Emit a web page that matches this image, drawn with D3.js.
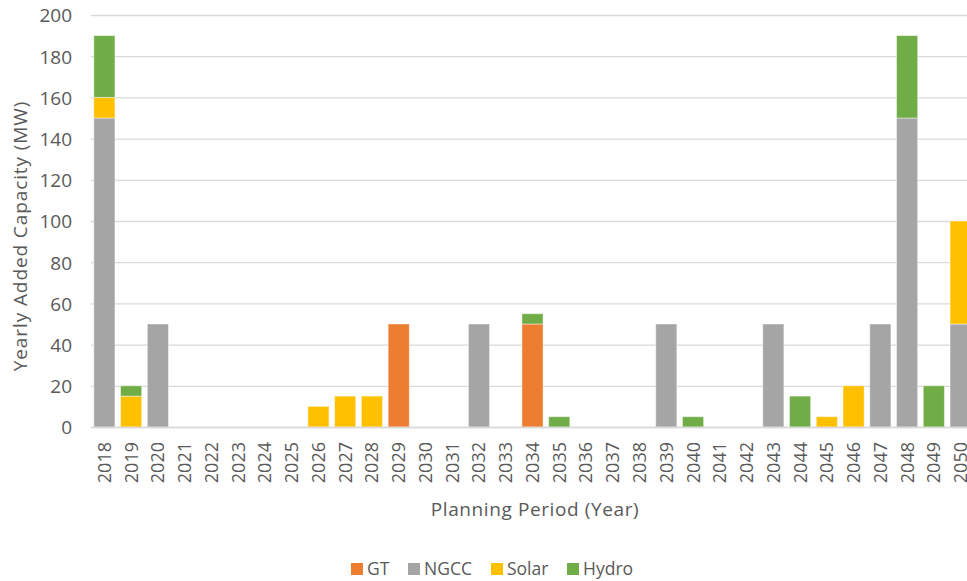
<!DOCTYPE html>
<html>
<head>
<meta charset="utf-8">
<script src="https://cdn.jsdelivr.net/npm/d3@7"></script>
<style>
  html, body { margin: 0; padding: 0; background: #fff; }
  svg text { font-family: "Open Sans", "Lato", sans-serif; fill: #595959; }
</style>
</head>
<body>
<svg id="chart" width="967" height="581"></svg>
<script>
// Planning years
const years = ["2018","2019","2020","2021","2022","2023","2024","2025","2026","2027","2028",
  "2029","2030","2031","2032","2033","2034","2035","2036","2037","2038","2039","2040",
  "2041","2042","2043","2044","2045","2046","2047","2048","2049","2050"];

// Capacity added per year (MW), by technology
const gt    = [0,0,0,0,0,0,0,0,0,0,0,50,0,0,0,0,50,0,0,0,0,0,0,0,0,0,0,0,0,0,0,0,0];
const ngcc  = [150,0,50,0,0,0,0,0,0,0,0,0,0,0,50,0,0,0,0,0,0,50,0,0,0,50,0,0,0,50,150,0,50];
const solar = [10,15,0,0,0,0,0,0,10,15,15,0,0,0,0,0,0,0,0,0,0,0,0,0,0,0,0,5,20,0,0,0,50];
const hydro = [30,5,0,0,0,0,0,0,0,0,0,0,0,0,0,0,5,5,0,0,0,0,5,0,0,0,15,0,0,0,40,20,0];

const seriesNames = ["GT", "NGCC", "Solar", "Hydro"];
const seriesColors = ["#ED7D31", "#A5A5A5", "#FFC000", "#70AD47"];
const yTicks = [0,20,40,60,80,100,120,140,160,180,200];

const rows = years.map((yr, i) => ({ year: yr, GT: gt[i], NGCC: ngcc[i], Solar: solar[i], Hydro: hydro[i] }));
const stacked = d3.stack().keys(seriesNames)(rows);

const svg = d3.select("#chart");
const plotLeft = 91, plotRight = 974, plotTop = 15, plotBottom = 427;

const x = d3.scaleBand().domain(years).range([plotLeft, plotRight]).paddingInner(0.21).paddingOuter(0.105);
const y = d3.scaleLinear().domain([0, 200]).range([plotBottom, plotTop]);
const color = d3.scaleOrdinal().domain(seriesNames).range(seriesColors);

// Horizontal gridlines
svg.append("g").selectAll("line").data(yTicks).join("line")
  .attr("x1", plotLeft).attr("x2", 967)
  .attr("y1", d => y(d) + 0.5).attr("y2", d => y(d) + 0.5)
  .attr("stroke", "#d9d9d9").attr("stroke-width", 1.3);

// Y axis labels
const yAxis = svg.append("g").attr("transform", `translate(${plotLeft - 19},0)`)
  .call(d3.axisLeft(y).tickValues(yTicks).tickSize(0).tickPadding(0));
yAxis.select(".domain").remove();
yAxis.selectAll("text").attr("font-size", 19).attr("dy", "0.36em")
  .style("font-family", "'Open Sans', sans-serif").attr("fill", "#595959");

// Stacked bars
svg.append("g").selectAll("g").data(stacked).join("g")
  .attr("fill", d => color(d.key))
  .selectAll("rect").data(d => d.filter(s => s[1] - s[0] > 0)).join("rect")
  .attr("x", d => x(d.data.year))
  .attr("width", x.bandwidth())
  .attr("y", d => y(d[1]))
  .attr("height", d => y(d[0]) - y(d[1]))
  .attr("stroke", "rgba(255,255,255,0.45)").attr("stroke-width", 1);

// Baseline
svg.append("line").attr("x1", plotLeft).attr("x2", 967)
  .attr("y1", plotBottom + 0.5).attr("y2", plotBottom + 0.5)
  .attr("stroke", "#d9d9d9").attr("stroke-width", 1.5);

// X axis labels (rotated)
const xAxis = svg.append("g").attr("transform", `translate(0,${plotBottom})`)
  .call(d3.axisBottom(x).tickSize(0).tickPadding(0));
xAxis.select(".domain").remove();
xAxis.selectAll("text")
  .attr("font-size", 18)
  .attr("text-anchor", "end")
  .attr("transform", "rotate(-90)")
  .attr("x", -15).attr("y", 0).attr("dy", "0.36em")
  .style("font-family", "'Open Sans', sans-serif").attr("fill", "#595959");

// Axis titles
svg.append("text").attr("transform", "translate(27,236) rotate(-90)")
  .attr("text-anchor", "middle").attr("font-size", 19).attr("letter-spacing", 0.9)
  .text("Yearly Added Capacity (MW)");
svg.append("text").attr("x", 535).attr("y", 516)
  .attr("text-anchor", "middle").attr("font-size", 19).attr("letter-spacing", 0.6)
  .text("Planning Period (Year)");

// Legend
const legendX = [351, 408, 491, 567];
const legend = svg.append("g").selectAll("g").data(seriesNames).join("g")
  .attr("transform", (d, i) => `translate(${legendX[i]},563)`);
legend.append("rect").attr("width", 12).attr("height", 12).attr("fill", d => color(d));
legend.append("text").attr("x", 16).attr("y", 12)
  .attr("font-size", 17.5).text(d => d);
</script>
</body>
</html>
